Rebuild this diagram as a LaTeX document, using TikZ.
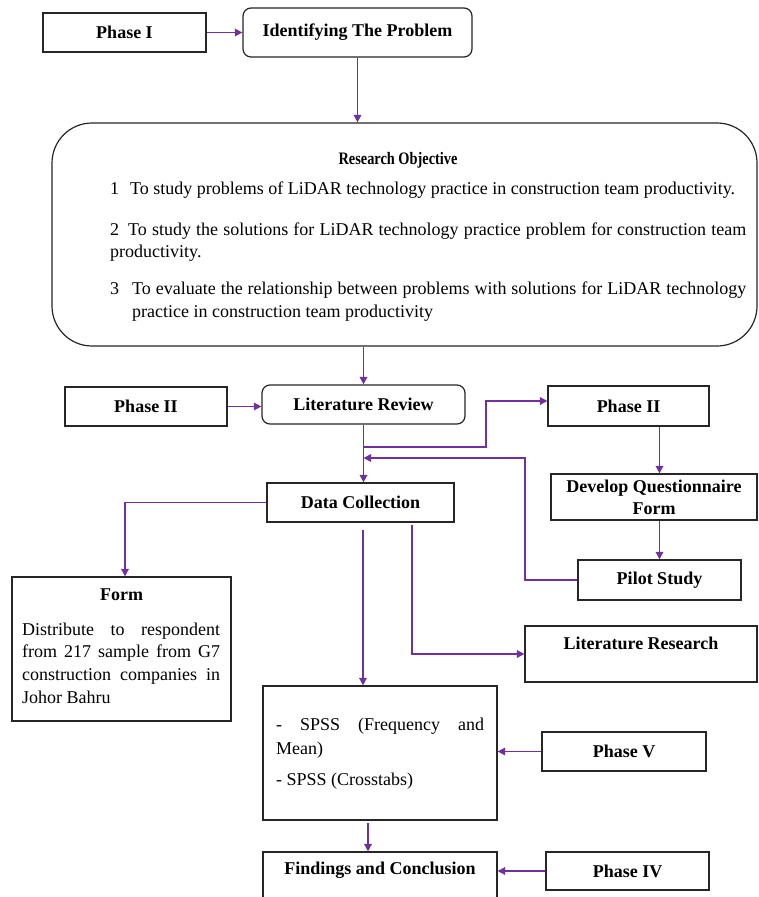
\documentclass[tikz,border=0pt]{standalone}
\usepackage{fontspec}
\setmainfont{Liberation Serif}
\newfontfamily\narrowserif[FakeStretch=0.82]{Liberation Serif}
\usetikzlibrary{calc,arrows.meta}
\definecolor{arrowpurple}{HTML}{7030A0}
\definecolor{boxline}{HTML}{262626}
\begin{document}
\begin{tikzpicture}[x=1pt,y=-1pt,
  box/.style={draw=boxline, line width=1.2pt, inner sep=0pt, align=center, font=\fontsize{18}{22}\selectfont\bfseries},
  rbox/.style={box, rounded corners=8pt},
  arr/.style={draw=arrowpurple, line width=1.6pt, -{Triangle[length=7.5pt,width=7.5pt]}},
  body/.style={font=\fontsize{18}{22}\selectfont, inner sep=0pt, anchor=base west},
  head/.style={font=\fontsize{18}{22}\selectfont\bfseries, inner sep=0pt}
]
\useasboundingbox (0,0) rectangle (758,897);
\clip (0,0) rectangle (758,897);
\fill[white] (0,0) rectangle (758,897);

% boxes
\node[box, minimum width=163pt, minimum height=39pt] (p1) at (124.5,32.5) {Phase I};
\node[rbox, minimum width=229pt, minimum height=49pt] (ip) at (357.5,32.5) {Identifying The Problem};
\node[box, rounded corners=40pt, minimum width=705pt, minimum height=223pt] (ro) at (404.5,234.5) {};
\node[head, font=\fontsize{17.5}{20}\narrowserif\bfseries] (rot) at (398,160) {Research Objective};
\node[body] (n1) at (110,194) {1};
\node[body] (t1) at (130,194) {To study problems of LiDAR technology practice in construction team productivity.};
\node[body] (n2) at (110,235) {2};
\node[body] (t2) at (128,235) {\makebox[618pt][s]{To study the solutions for LiDAR technology practice problem for construction team}};
\node[body] (t2b) at (110,257) {productivity.};
\node[body] (n3) at (110,294) {3};
\node[body] (t3) at (132,294) {\makebox[614pt][s]{To evaluate the relationship between problems with solutions for LiDAR technology}};
\node[body] (t3b) at (132,317) {practice in construction team productivity};

\node[rbox, minimum width=203pt, minimum height=39pt] (lr) at (363.5,404.5) {Literature Review};
\node[box, minimum width=162pt, minimum height=39pt] (p2l) at (146,406.5) {Phase II};
\node[box, minimum width=161pt, minimum height=40pt] (p2r) at (628.5,406) {Phase II};
\node[box, minimum width=206pt, minimum height=46pt] (dq) at (654,497) {Develop Questionnaire\\Form};
\node[box, minimum width=163pt, minimum height=40pt] (ps) at (659.5,580) {Pilot Study};
\node[box, minimum width=187pt, minimum height=39pt] (dc) at (360.5,502.5) {Data Collection};

\node[box, minimum width=219pt, minimum height=144pt] (form) at (121.5,649) {};
\node[head] (formt) at (121.5,595) {Form};
\node[body] (f1) at (22,635) {\makebox[198pt][s]{Distribute to respondent}};
\node[body] (f2) at (22,657) {\makebox[198pt][s]{from 217 sample from G7}};
\node[body] (f3) at (22,680) {\makebox[198pt][s]{construction companies in}};
\node[body] (f4) at (22,703) {Johor Bahru};

\node[box, minimum width=232pt, minimum height=56pt] (lres) at (641,654) {};
\node[head] (lrest) at (641,643) {Literature Research};

\node[box, minimum width=234pt, minimum height=134pt] (sp) at (380,753) {};
\node[body] (s1) at (276,730) {\makebox[208pt][s]{- SPSS (Frequency and}};
\node[body] (s2) at (276,754) {Mean)};
\node[body] (s3) at (276,785) {- SPSS (Crosstabs)};

\node[box, minimum width=164pt, minimum height=39pt] (pv) at (624,751.5) {Phase V};
\node[box, minimum width=234pt, minimum height=46pt] (fc) at (380,875) {};
\node[head] (fct) at (380,870) {Findings and Conclusion};
\node[box, minimum width=163pt, minimum height=38pt] (p4) at (627.5,871) {Phase IV};

% helper coordinates
\coordinate (b1) at (363.5,447);
\coordinate (b2) at (486,401);
\coordinate (c1) at (525,458);
\coordinate (d1) at (363,530);
\coordinate (d2) at (412,525);
\coordinate (e1) at (368,823);

% connectors
\draw[arr] (p1.east) -- (ip.west);
\draw[arr] (ip.south) -- (ip.south |- ro.north);
\draw[arr] (lr.north |- ro.south) -- (lr.north);
\draw[arr] (p2l.east) -- (p2l.east -| lr.west);
\draw[arr] (lr.south) -- (lr.south |- dc.north);
\draw[arr] (b1) -| (b2) -- (b2 -| p2r.west);
\draw[arr] (ps.north |- p2r.south) -- (ps.north |- dq.north);
\draw[arr] (ps.north |- dq.south) -- (ps.north);
\draw[arr] (ps.west) -| (c1) -- (c1 -| lr.south);
\draw[arr] (dc.west) -| ([xshift=3.5pt]form.north);
\draw[arr] (d1) -- (d1 |- sp.north);
\draw[arr] (d2) |- (lres.west);
\draw[arr] (pv.west) -- (pv.west -| sp.east);
\draw[arr] (e1) -- (e1 |- fc.north);
\draw[arr] (p4.west) -- (p4.west -| fc.east);
\end{tikzpicture}
\end{document}
